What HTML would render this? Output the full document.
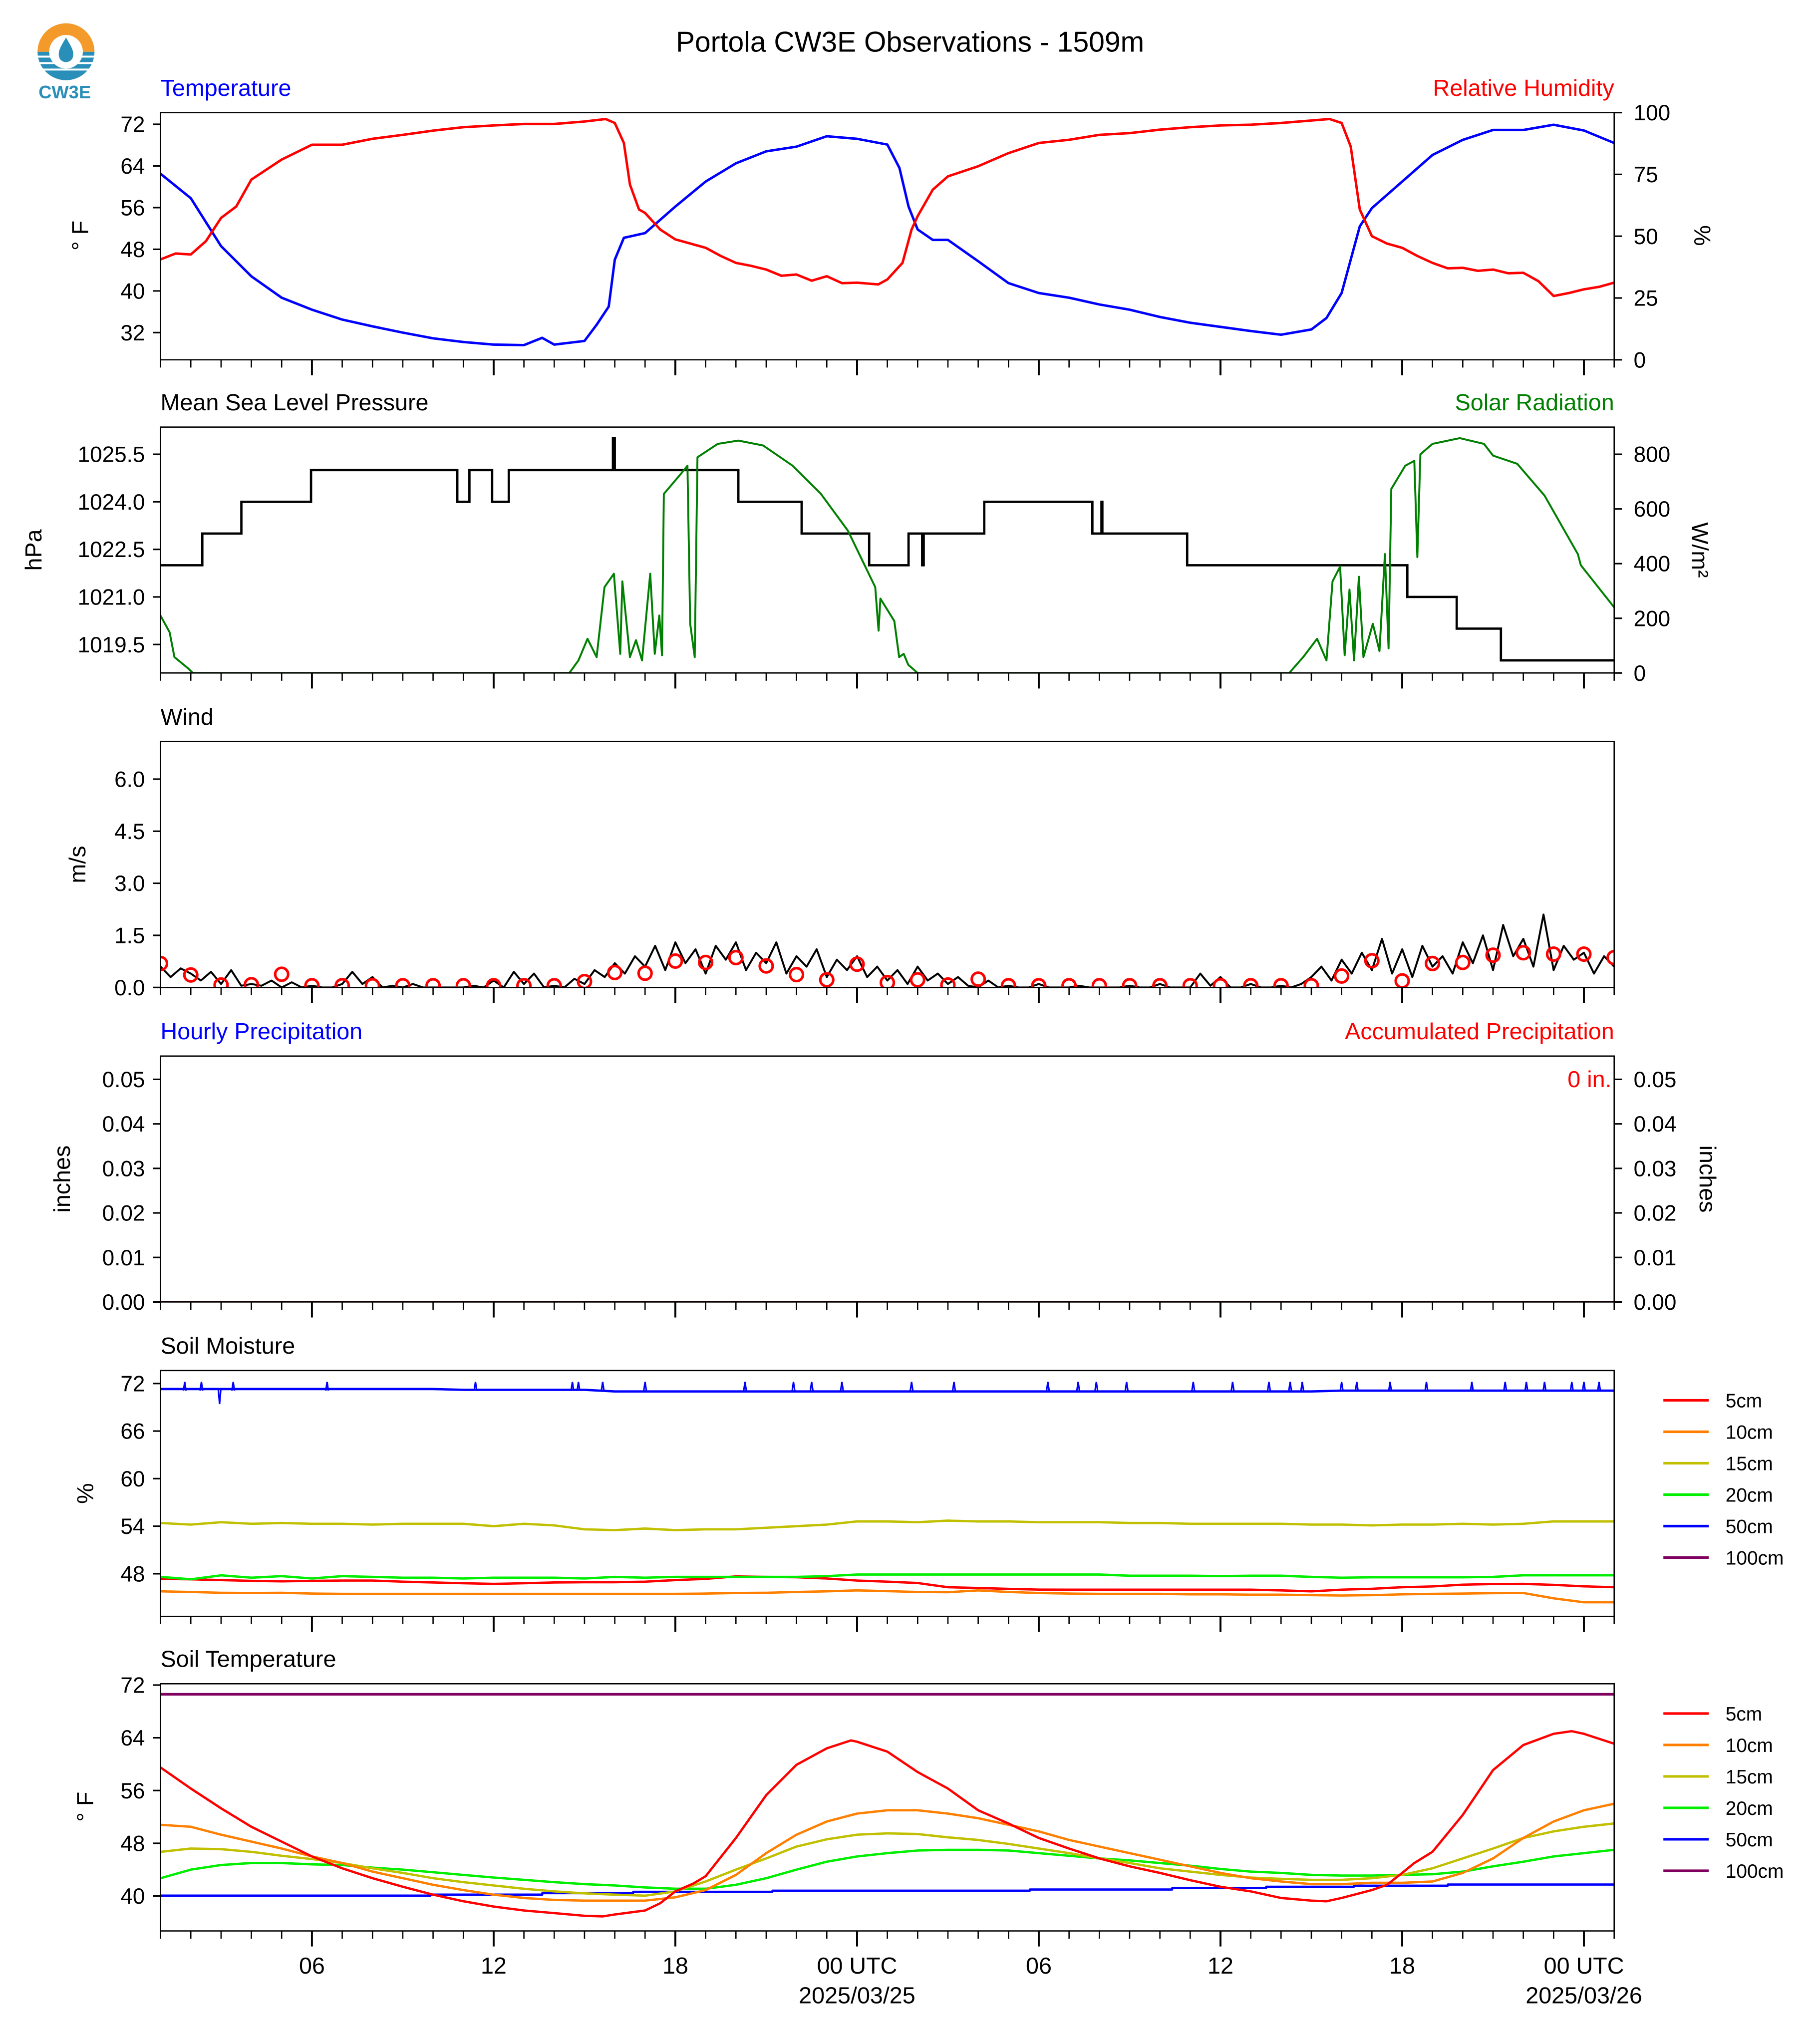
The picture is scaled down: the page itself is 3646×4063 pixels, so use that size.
<!DOCTYPE html>
<html><head><meta charset="utf-8"><style>
html,body{margin:0;padding:0;background:#fff}
svg{display:block}
text{font-family:"Liberation Sans",Arial,sans-serif}
</style></head><body>
<svg id="chart" xmlns="http://www.w3.org/2000/svg" width="3646" height="4063" viewBox="0 0 1406 1567" preserveAspectRatio="none">
<rect x="0" y="0" width="1406" height="1567" fill="#fff"/>
<g>
<path d="M29,40 A22,22 0 0 1 73,40 Z" fill="#f39a2b"/>
<path d="M29,40 A22,22 0 0 0 73,40 Z" fill="#2a8fb8"/>
<rect x="29" y="43" width="44" height="1.5" fill="#fff"/><rect x="29" y="48" width="44" height="1.5" fill="#fff"/><rect x="29" y="53" width="44" height="1.5" fill="#fff"/>
<circle cx="51" cy="40" r="13" fill="#fff"/>
<path d="M51,29 C47,36 44,40 46,45 C48,49 54,49 56,45 C58,40 55,36 51,29 Z" fill="#2a8fb8"/>
<text x="50" y="76" font-size="14" font-weight="bold" fill="#2a8fb8" text-anchor="middle">CW3E</text>
</g>
<text x="703" y="40" font-size="22" text-anchor="middle">Portola CW3E Observations - 1509m</text>
<g id="plots"></g>
</svg>
<script>
// ---------- DATA ----------
const tempTimes=[1,2,3,4,5,6,7,8,9,10,11,12,13,13.6,14,15,15.4,15.8,16,16.3,17,18,19,20,21,22,23,24,25,25.4,25.7,26,26.5,27,28,29,30,31,32,33,34,35,36,37,38,39,39.5,40,40.3,40.6,41,42,43,44,45,46,47,48,49];
const tempValues=[62.5,57.8,48.6,42.8,38.7,36.4,34.5,33.2,32.0,30.9,30.2,29.7,29.6,31.0,29.7,30.4,33.5,37.0,46.0,50.2,51.1,56.2,61.0,64.5,66.8,67.7,69.7,69.2,68.1,63.6,56.2,51.8,49.8,49.8,45.7,41.5,39.6,38.7,37.4,36.4,35.0,33.9,33.1,32.3,31.6,32.6,34.8,39.6,46.0,52.4,55.9,61.0,66.1,69.0,70.9,70.9,71.9,70.8,68.4];
const rhTimes=[1,1.5,2,2.5,3,3.5,4,5,6,7,8,9,10,11,12,13,14,15,15.7,16,16.3,16.5,16.8,17,17.5,18,18.5,19,19.5,20,20.5,21,21.5,22,22.5,23,23.5,24,24.7,25,25.5,25.8,26,26.5,27,28,29,30,31,32,33,34,35,36,37,38,39,39.6,40,40.3,40.6,41,41.5,42,42.5,43,43.5,44,44.5,45,45.5,46,46.5,47,47.5,48,48.5,49];
const rhValues=[40.6,43,42.6,48,57.4,62,72.9,81.0,87.0,87.0,89.4,91.0,92.7,94.1,94.8,95.4,95.4,96.4,97.4,95.8,87.7,70.9,60.8,59.4,52.7,48.7,47,45.3,42,39.2,38,36.5,34,34.5,32,33.8,31,31.2,30.5,32.5,39.2,52.7,58.1,68.8,74.2,78.3,83.6,87.7,89.0,91.0,91.7,93.1,94.1,94.8,95.1,95.8,96.8,97.4,95.8,86.3,60.8,50.0,47,45.3,42,39.2,37,37.2,36,36.5,35,35.2,31.8,25.8,27,28.5,29.5,31.2];
const presTimes=[1,2.38,3.67,5.97,10.8,11.2,11.95,12.5,15.94,16.0,20.08,22.17,24.4,25.7,26.15,26.2,28.2,31.77,32.07,32.1,34.9,42.17,43.8,45.26,49];
const presValues=[1022,1023,1024,1025,1024,1025,1024,1025,1026,1025,1024,1023,1022,1023,1022,1023,1024,1023,1024,1023,1022,1021,1020,1019,1019];
const solarTimes=[1,1.3,1.46,1.92,2.07,14.5,14.8,15.1,15.4,15.66,15.97,16.18,16.25,16.5,16.7,16.9,17.17,17.32,17.47,17.56,17.62,18.18,18.4,18.49,18.64,18.73,19.4,20.08,20.9,21.86,22.8,23.7,24.6,24.71,24.77,25.23,25.39,25.54,25.69,26,38.27,38.73,39.19,39.5,39.7,39.95,40.1,40.26,40.41,40.57,40.72,41.03,41.25,41.43,41.55,41.64,42.1,42.4,42.5,42.6,43.0,43.9,44.7,45.0,45.8,46.7,47.8,47.9,49];
const solarValues=[210,149,58,16,0,0,46,125,58,314,363,70,335,58,120,46,363,70,210,65,655,728,758,180,58,789,838,850,832,759,656,520,314,155,272,190,58,70,30,0,0,58,125,46,335,389,65,305,46,352,58,180,80,435,90,673,758,776,424,800,838,859,838,795,765,649,435,394,240];
const windValues=[0.6,0.3,0.55,0.4,0.2,0.45,0.1,0.5,0.05,
0.1,0.05,0.2,0,0.15,0,0.05,0,0,0.1,0.45,0.1,0.3,0,0.05,0,0.1,0,0,0,0,0,0.05,0,0.2,0,0.45,0.1,0.4,0,0.05,0,0.25,
0.1,0.5,0.3,0.7,0.4,0.9,
0.6,1.2,0.5,1.3,0.7,1.1,0.4,1.2,0.8,1.3,0.5,1.0,0.7,1.3,0.4,0.9,0.6,1.1,0.3,0.8,0.5,
0.9,0.3,0.6,0.2,0.5,0.1,0.6,0.2,0.4,0.1,0.3,0.05,
0,0.2,0,0.05,0,0,0.1,0,0,0,0.05,0,0,0,0,0.05,0,0,0.1,0,0,0,0.4,0.05,0.3,0,0,0.1,0,0,0.05,0,0.1,
0.3,0.6,0.2,0.8,0.4,1.0,
0.5,1.4,0.4,1.1,0.3,1.2,0.6,0.9,0.4,1.3,0.7,1.5,0.5,1.8,0.9,1.4,0.6,2.1,0.5,1.2,0.8,1.0,0.4,0.9,0.6];
const gustValues=[0.69,0.36,0.07,0.08,0.38,0.05,0.05,0.05,0.05,0.05,0.05,0.05,0.05,0.05,0.17,0.43,0.41,0.76,0.72,0.86,0.62,0.37,0.22,0.67,0.14,0.22,0.07,0.24,0.05,0.05,0.05,0.05,0.05,0.05,0.05,0.05,0.05,0.05,0.05,0.33,0.77,0.19,0.69,0.72,0.93,1.0,0.96,0.96,0.86];
const hours=[1,2,3,4,5,6,7,8,9,10,11,12,13,14,15,16,17,18,19,20,21,22,23,24,25,26,27,28,29,30,31,32,33,34,35,36,37,38,39,40,41,42,43,44,45,46,47,48,49];
const sm50=[71.3,71.3,71.3,71.3,71.3,71.3,71.3,71.3,71.3,71.3,71.2,71.2,71.2,71.2,71.2,71.0,71.0,71.0,71.0,71.0,71.0,71.0,71.0,71.0,71.0,71.0,71.0,71.0,71.0,71.0,71.0,71.0,71.0,71.0,71.0,71.0,71.0,71.0,71.0,71.1,71.1,71.1,71.1,71.1,71.1,71.1,71.1,71.1,71.1];
const sm50Spikes=[1.8,2.35,3.4,6.5,11.4,14.6,14.8,15.6,17,20.3,21.9,22.5,23.5,25.8,27.2,30.3,31.3,31.9,32.9,35.1,36.4,37.6,38.3,38.7,40,40.5,41.6,42.8,44.3,45.4,46.1,46.7,47.6,48,48.5];
const sm50DipTimes=[2.95];
const sm50DipValues=[69.4];
const sm15=[54.4,54.2,54.5,54.3,54.4,54.3,54.3,54.2,54.3,54.3,54.3,54.0,54.3,54.1,53.6,53.5,53.7,53.5,53.6,53.6,53.8,54.0,54.2,54.6,54.6,54.5,54.7,54.6,54.6,54.5,54.5,54.5,54.4,54.4,54.3,54.3,54.3,54.3,54.2,54.2,54.1,54.2,54.2,54.3,54.2,54.3,54.6,54.6,54.6];
const sm20=[47.6,47.3,47.8,47.5,47.7,47.4,47.7,47.6,47.5,47.5,47.4,47.5,47.5,47.5,47.4,47.6,47.5,47.6,47.6,47.6,47.6,47.6,47.7,47.9,47.9,47.9,47.9,47.9,47.9,47.9,47.9,47.9,47.75,47.75,47.75,47.7,47.75,47.75,47.6,47.5,47.55,47.55,47.55,47.55,47.6,47.8,47.8,47.8,47.8];
const sm5=[47.35,47.3,47.2,47.1,47.04,47.1,47.14,47.14,47.0,46.9,46.8,46.72,46.8,46.9,46.93,46.93,47.0,47.2,47.35,47.67,47.6,47.56,47.4,47.14,47.0,46.83,46.30,46.2,46.09,46.0,45.99,45.99,45.99,45.99,45.99,45.99,45.99,45.9,45.78,45.99,46.1,46.30,46.4,46.62,46.7,46.72,46.6,46.41,46.30];
const sm10=[45.78,45.7,45.6,45.57,45.6,45.5,45.46,45.46,45.46,45.46,45.46,45.46,45.46,45.46,45.46,45.46,45.46,45.46,45.5,45.57,45.6,45.7,45.78,45.9,45.8,45.7,45.67,45.9,45.7,45.57,45.5,45.46,45.46,45.46,45.4,45.4,45.36,45.36,45.3,45.25,45.3,45.4,45.46,45.5,45.55,45.57,44.9,44.4,44.4];
const stTimes=[1,2,3,4,5,6,7,8,9,10,11,12,13,14,15,15.6,16,17,17.5,18,18.6,19,20,21,22,23,23.8,24,25,26,27,28,29,30,31,32,33,34,35,36,37,38,39,39.5,40,41,41.5,42,42.4,43,44,45,46,47,47.6,48,49];
const st5=[59.5,56.3,53.3,50.5,48.25,46.0,44.2,42.7,41.4,40.2,39.2,38.4,37.8,37.4,37.0,36.9,37.2,37.8,38.9,40.7,41.9,43.0,48.8,55.3,59.9,62.4,63.6,63.4,61.9,58.8,56.3,53.0,51.0,48.8,47.2,45.7,44.5,43.5,42.4,41.4,40.7,39.7,39.3,39.2,39.7,40.9,41.7,43.5,45.0,46.7,52.3,59.1,62.9,64.6,65.0,64.6,63.1];
const st10=[50.8,50.5,49.3,48.25,47.2,46.0,45.0,43.7,42.7,41.7,40.9,40.2,39.7,39.4,39.3,39.3,39.3,39.8,40.9,43.2,46.5,49.3,51.3,52.5,53.0,53.0,52.5,51.8,50.8,49.8,48.5,47.5,46.5,45.5,44.5,43.5,42.7,42.2,41.8,41.8,42.0,42.0,42.2,43.5,45.7,48.8,51.3,53.0,54.0,55.0];
const st15=[46.7,47.2,47.1,46.7,46.1,45.6,45.0,44.2,43.5,42.7,42.1,41.6,41.1,40.7,40.4,40.2,40.05,40.7,42.2,44.0,45.7,47.5,48.6,49.3,49.5,49.4,48.9,48.5,47.9,47.2,46.5,45.7,45.0,44.2,43.7,43.2,42.8,42.6,42.45,42.45,42.7,43.2,44.2,45.7,47.2,48.8,49.8,50.5,51.0];
const st20=[42.7,44.0,44.7,45.0,45.0,44.8,44.7,44.3,44.0,43.6,43.2,42.8,42.45,42.1,41.8,41.6,41.3,41.1,41.1,41.7,42.7,44.0,45.2,46.0,46.5,46.9,47.0,47.0,46.9,46.5,46.1,45.7,45.4,45.0,44.6,44.1,43.7,43.5,43.2,43.1,43.1,43.2,43.3,43.7,44.5,45.2,46.0,46.5,47.0];
const st50Times=[1,9.9,9.91,13.6,13.61,16.6,16.61,21.2,21.21,29.7,29.71,34.4,34.41,37.5,37.51,40.4,40.41,43.5,43.51,49];
const st50=[40.05,40.05,40.2,40.2,40.43,40.43,40.63,40.63,40.8,40.8,40.98,40.98,41.2,41.2,41.4,41.4,41.56,41.56,41.74,41.74];
const st100=[70.6,70.6];
const st100Times=[1,49];
const majorTickHours=[6,12,18,24,30,36,42,48];
const majorTickLabels=["06","12","18","00 UTC","06","12","18","00 UTC"];
const majorDateLabels=["","","","2025/03/25","","","","2025/03/26"];

// ---------- LAYOUT ----------
const NS="http://www.w3.org/2000/svg";
const root=document.getElementById('plots');
const X0=124,X1=1247,T0=1,T1=49;
function xs(t){return X0+(t-T0)/(T1-T0)*(X1-X0);}
function mk(tag,attrs,parent){const e=document.createElementNS(NS,tag);for(const k in attrs)e.setAttribute(k,attrs[k]);(parent||root).appendChild(e);return e;}
function lin(v0,y0,v1,y1){return v=>y0+(v-v0)/(v1-v0)*(y1-y0);}
function txt(x,y,s,size,opts,parent){const e=mk('text',Object.assign({x:x,y:y,'font-size':size},opts||{}),parent);e.textContent=s;return e;}
let clipId=0;
function panel(top,bot,name){
  const g=mk('g',{});
  
  
  const id='clip'+(clipId++);
  const cp=mk('clipPath',{id:id},g);mk('rect',{x:X0,y:top,width:X1-X0,height:bot-top},cp);
  const inner=mk('g',{'clip-path':'url(#'+id+')'},g);
  const fr=mk('rect',{x:X0,y:top,width:X1-X0,height:bot-top,fill:'none',stroke:'#000','stroke-width':1},g);
  
  
  for(let h=T0;h<=T1;h++){
    const major=majorTickHours.indexOf(h)>=0;
    const tk=mk('line',{x1:xs(h),x2:xs(h),y1:bot,y2:bot+(major?12:6),stroke:'#000','stroke-width':major?1.5:1},g);
    
    
  }
  return {g:g,inner:inner,top:top,bot:bot};
}
function yTicks(p,vals,scale,side,fmt){
  vals.forEach(v=>{
    const y=scale(v);
    const x=side==='left'?X0:X1;
    const t=mk('line',{x1:x,x2:side==='left'?x-6:x+6,y1:y,y2:y,stroke:'#000','stroke-width':1.2},p.g);
    
    
    const l=txt(side==='left'?X0-12:X1+15,y+6,fmt(v),17,{'text-anchor':side==='left'?'end':'start'},p.g);
    
    
  });
}
function line(p,times,vals,scale,color,name,w){
  const d=times.map((t,i)=>(i?'L':'M')+xs(t).toFixed(2)+','+scale(vals[i]).toFixed(2)).join('');
  const e=mk('path',{d:d,fill:'none',stroke:color,'stroke-width':w||1.6,'stroke-linejoin':'round'},p.inner);
  
  
  return e;
}
function stepLine(p,times,vals,scale,color,name){
  let d='';
  for(let i=0;i<times.length;i++){
    const x=xs(times[i]),y=scale(vals[i]);
    if(i===0)d+='M'+x+','+y;else d+='L'+x+','+scale(vals[i-1])+'L'+x+','+y;
  }
  const e=mk('path',{d:d,fill:'none',stroke:color,'stroke-width':1.8},p.inner);
  
  
}
function rotLabel(x,y,s,angle,parent,color){
  const e=txt(x,y,s,18,{'text-anchor':'middle',transform:'rotate('+angle+' '+x+' '+y+')',fill:color||'#000'},parent);
  
  
  return e;
}
function title(x,y,s,color,anchor){
  const e=txt(x,y,s,18,{fill:color,'text-anchor':anchor||'start'});
  
  
}
const f0=v=>String(v), f1=v=>v.toFixed(1), f2=v=>v.toFixed(2);

// Panel 1
title(124,74,'Temperature','#0000ff');title(1247,74,'Relative Humidity','#ff0000','end');
const p1=panel(87,278,'temperature');
const yT=lin(72,96,32,257), yRH=lin(0,278,100,87);
yTicks(p1,[72,64,56,48,40,32],yT,'left',f0);
yTicks(p1,[100,75,50,25,0],yRH,'right',f0);
line(p1,tempTimes,tempValues,yT,'#0000ff','temperature-line',1.9);
line(p1,rhTimes,rhValues,yRH,'#ff0000','humidity-line',1.9);
rotLabel(68,182,'° F',-90,p1.g);rotLabel(1309,182,'%',90,p1.g);

// Panel 2
title(124,317,'Mean Sea Level Pressure','#000');title(1247,317,'Solar Radiation','#008000','end');
const p2=panel(330,520,'pressure');
const yP=lin(1025.5,351,1019.5,498), yS=lin(0,520,800,351);
yTicks(p2,[1025.5,1024.0,1022.5,1021.0,1019.5],yP,'left',f1);
yTicks(p2,[800,600,400,200,0],yS,'right',f0);
stepLine(p2,presTimes,presValues,yP,'#000','pressure-line');
line(p2,solarTimes,solarValues,yS,'#008000','solar-line',1.5);
rotLabel(32,425,'hPa',-90,p2.g);rotLabel(1307,425,'W/m²',90,p2.g);

// Panel 3
title(124,560,'Wind','#000');
const p3=panel(573,763,'wind');
const yW=lin(0,763,6,602);
yTicks(p3,[6.0,4.5,3.0,1.5,0.0],yW,'left',f1);
const wTimes=windValues.map((v,i)=>T0+i*(T1-T0)/(windValues.length-1));
line(p3,wTimes,windValues,yW,'#000','wind-speed-line',1.5);
hours.forEach((h,i)=>{
  const c=mk('circle',{cx:xs(h),cy:yW(gustValues[i]),r:5,fill:'none',stroke:'#ff0000','stroke-width':2},p3.inner);
  
  
});
rotLabel(66,668,'m/s',-90,p3.g);

// Panel 4
title(124,803,'Hourly Precipitation','#0000ff');title(1247,803,'Accumulated Precipitation','#ff0000','end');
const p4=panel(816,1006,'precipitation');
const yPr=lin(0,1006,0.05,834);
yTicks(p4,[0.05,0.04,0.03,0.02,0.01,0.00],yPr,'left',f2);
yTicks(p4,[0.05,0.04,0.03,0.02,0.01,0.00],yPr,'right',f2);
line(p4,[T0,T1],[0,0],yPr,'#a00000','accumulated-precip-line',1.5);
const acc=txt(1245,840,'0 in.',18,{fill:'#ff0000','text-anchor':'end'},p4.g);


rotLabel(54,911,'inches',-90,p4.g);rotLabel(1313,911,'inches',90,p4.g);

// Panel 5
title(124,1046,'Soil Moisture','#000');
const p5=panel(1059,1249,'soil-moisture');
const yM=lin(72,1069,48,1216);
yTicks(p5,[72,66,60,54,48],yM,'left',f0);
line(p5,hours,sm10,yM,'#ff8000','moisture-10cm-line',1.8);
line(p5,hours,sm5,yM,'#ff0000','moisture-5cm-line',1.8);
line(p5,hours,sm20,yM,'#00ee00','moisture-20cm-line',1.8);
line(p5,hours,sm15,yM,'#c0c000','moisture-15cm-line',1.8);
line(p5,hours,sm50,yM,'#0000ff','moisture-50cm-line',1.8);
sm50Spikes.forEach(t=>{
  const s=mk('path',{d:'M'+(xs(t)-1)+','+yM(71.1)+'L'+xs(t)+','+yM(72.2)+'L'+(xs(t)+1)+','+yM(71.1),fill:'none',stroke:'#0000ff','stroke-width':1.2},p5.inner);
  
  
});
sm50DipTimes.forEach((t,i)=>{
  const s=mk('path',{d:'M'+(xs(t)-1)+','+yM(71.3)+'L'+xs(t)+','+yM(sm50DipValues[i])+'L'+(xs(t)+1)+','+yM(71.3),fill:'none',stroke:'#0000ff','stroke-width':1.2},p5.inner);
  
  
});
rotLabel(72,1154,'%',-90,p5.g);

// Panel 6
title(124,1288,'Soil Temperature','#000');
const p6=panel(1301,1492,'soil-temperature');
const yST=lin(72,1302,40,1465);
yTicks(p6,[72,64,56,48,40],yST,'left',f0);
line(p6,st100Times,st100,yST,'#800060','soiltemp-100cm-line',2);
line(p6,st50Times,st50,yST,'#0000ff','soiltemp-50cm-line',1.8);
line(p6,hours,st20,yST,'#00ee00','soiltemp-20cm-line',1.8);
line(p6,hours,st15,yST,'#c0c000','soiltemp-15cm-line',1.8);
line(p6,hours,st10,yST,'#ff8000','soiltemp-10cm-line',1.8);
line(p6,stTimes,st5,yST,'#ff0000','soiltemp-5cm-line',1.8);
rotLabel(72,1396,'° F',-90,p6.g);

// x labels
majorTickHours.forEach((h,i)=>{
  const l=txt(xs(h),1525,majorTickLabels[i],18,{'text-anchor':'middle'});
  
  
  if(majorDateLabels[i]){
    const d=txt(xs(h),1548,majorDateLabels[i],18,{'text-anchor':'middle'});
    
    
  }
});

// legends
const legNames=['5cm','10cm','15cm','20cm','50cm','100cm'];
const legColors=['#ff0000','#ff8000','#c0c000','#00ee00','#0000ff','#800060'];
[1082,1324].forEach(y0=>{
  legNames.forEach((n,i)=>{
    const y=y0+i*24.3;
    const ln=mk('line',{x1:1285,x2:1320,y1:y,y2:y,stroke:legColors[i],'stroke-width':2});
    
    
    const t=txt(1333,y+5.5,n,15,{});
    
    
  });
});
</script>
</body></html>
